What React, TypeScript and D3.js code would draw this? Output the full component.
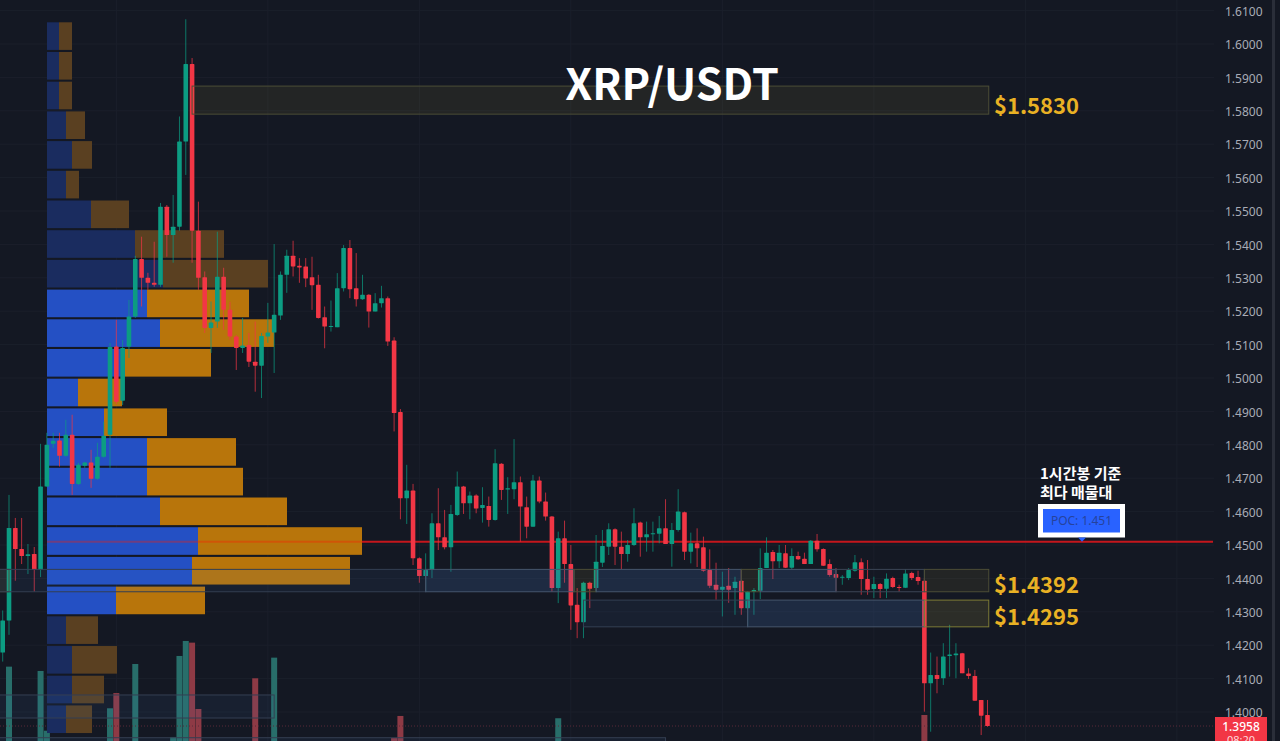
import React, { useEffect, useRef } from 'react';
import * as d3 from 'd3';

// OHLC, one entry per 1h candle
const opens = [1.4178,1.4274,1.4551,1.4488,1.4467,1.4473,1.4425,1.4675,1.4803,1.4813,1.4767,1.4830,1.4683,1.4737,1.4747,1.4698,1.4764,1.4830,1.5094,1.4932,1.5094,1.5184,1.5356,1.5300,1.5285,1.5279,1.5513,1.5428,1.5453,1.5708,1.5940,1.5441,1.5302,1.5150,1.5169,1.5303,1.5204,1.5124,1.5090,1.5099,1.5049,1.5037,1.5124,1.5136,1.5187,1.5309,1.5366,1.5336,1.5334,1.5302,1.5279,1.5182,1.5154,1.5152,1.5269,1.5389,1.5269,1.5236,1.5249,1.5199,1.5224,1.5239,1.5112,1.4898,1.4640,1.4663,1.4460,1.4407,1.4425,1.4565,1.4523,1.4493,1.4590,1.4675,1.4625,1.4648,1.4611,1.4617,1.4575,1.4743,1.4666,1.4667,1.4688,1.4613,1.4555,1.4693,1.4630,1.4585,1.4371,1.4520,1.4443,1.4321,1.4269,1.4387,1.4371,1.4447,1.4495,1.4547,1.4495,1.4473,1.4500,1.4567,1.4523,1.4532,1.4534,1.4550,1.4503,1.4545,1.4598,1.4480,1.4505,1.4493,1.4425,1.4381,1.4366,1.4378,1.4371,1.4393,1.4311,1.4360,1.4363,1.4431,1.4479,1.4451,1.4475,1.4432,1.4467,1.4459,1.4443,1.4513,1.4488,1.4443,1.4413,1.4402,1.4401,1.4423,1.4448,1.4398,1.4368,1.4383,1.4369,1.4401,1.4374,1.4372,1.4416,1.4404,1.4393,1.4086,1.4111,1.4101,1.4168,1.4170,1.4176,1.4115,1.4108,1.4036,1.3991];
const closes = [1.4274,1.4551,1.4488,1.4467,1.4472,1.4425,1.4675,1.4800,1.4812,1.4767,1.4830,1.4683,1.4740,1.4747,1.4698,1.4764,1.4827,1.5093,1.4929,1.5090,1.5184,1.5356,1.5300,1.5285,1.5279,1.5513,1.5428,1.5453,1.5708,1.5940,1.5441,1.5300,1.5150,1.5166,1.5303,1.5204,1.5124,1.5090,1.5097,1.5049,1.5037,1.5126,1.5136,1.5189,1.5309,1.5366,1.5334,1.5331,1.5298,1.5278,1.5180,1.5154,1.5156,1.5269,1.5389,1.5266,1.5236,1.5249,1.5199,1.5224,1.5239,1.5109,1.4895,1.4640,1.4663,1.4460,1.4407,1.4425,1.4565,1.4523,1.4493,1.4593,1.4675,1.4625,1.4648,1.4609,1.4620,1.4575,1.4745,1.4665,1.4670,1.4688,1.4615,1.4555,1.4693,1.4630,1.4585,1.4371,1.4520,1.4443,1.4319,1.4269,1.4387,1.4369,1.4450,1.4497,1.4547,1.4495,1.4473,1.4500,1.4565,1.4523,1.4532,1.4535,1.4550,1.4503,1.4545,1.4600,1.4480,1.4505,1.4490,1.4423,1.4378,1.4366,1.4375,1.4366,1.4390,1.4311,1.4360,1.4365,1.4431,1.4477,1.4451,1.4477,1.4432,1.4467,1.4457,1.4443,1.4513,1.4487,1.4438,1.4410,1.4402,1.4405,1.4425,1.4448,1.4398,1.4366,1.4383,1.4368,1.4399,1.4374,1.4371,1.4415,1.4401,1.4392,1.4086,1.4111,1.4099,1.4166,1.4172,1.4175,1.4116,1.4108,1.4034,1.3989,1.3958];
const highs = [1.4304,1.4650,1.4581,1.4581,1.4503,1.4494,1.4803,1.4836,1.4836,1.4836,1.4875,1.4890,1.4746,1.4749,1.4785,1.4806,1.4869,1.5105,1.5174,1.5114,1.5234,1.5366,1.5423,1.5315,1.5408,1.5524,1.5518,1.5548,1.5783,1.6074,1.5958,1.5528,1.5319,1.5229,1.5438,1.5330,1.5228,1.5129,1.5180,1.5135,1.5169,1.5135,1.5225,1.5401,1.5319,1.5384,1.5411,1.5359,1.5359,1.5363,1.5309,1.5214,1.5232,1.5314,1.5398,1.5413,1.5374,1.5309,1.5251,1.5254,1.5276,1.5244,1.5122,1.4907,1.4740,1.4683,1.4463,1.4475,1.4595,1.4670,1.4605,1.4620,1.4720,1.4677,1.4660,1.4652,1.4673,1.4645,1.4787,1.4745,1.4703,1.4817,1.4705,1.4645,1.4710,1.4705,1.4657,1.4587,1.4540,1.4573,1.4500,1.4371,1.4390,1.4390,1.4530,1.4545,1.4565,1.4550,1.4540,1.4515,1.4610,1.4570,1.4570,1.4570,1.4587,1.4637,1.4566,1.4667,1.4600,1.4537,1.4550,1.4525,1.4487,1.4447,1.4420,1.4431,1.4405,1.4425,1.4362,1.4371,1.4490,1.4523,1.4485,1.4500,1.4500,1.4490,1.4480,1.4477,1.4515,1.4533,1.4490,1.4457,1.4431,1.4410,1.4431,1.4470,1.4460,1.4455,1.4405,1.4386,1.4415,1.4405,1.4381,1.4428,1.4420,1.4423,1.4401,1.4178,1.4166,1.4206,1.4261,1.4206,1.4177,1.4131,1.4126,1.4036,1.4036];
const lows = [1.4151,1.4231,1.4393,1.4443,1.4413,1.4360,1.4404,1.4674,1.4791,1.4735,1.4764,1.4650,1.4680,1.4731,1.4671,1.4695,1.4761,1.4731,1.4922,1.4919,1.5060,1.5180,1.5214,1.5264,1.5273,1.5273,1.5363,1.5345,1.5441,1.5608,1.5345,1.5264,1.5135,1.5075,1.5150,1.5144,1.5114,1.5024,1.5075,1.5033,1.4959,1.4940,1.5105,1.5015,1.5174,1.5255,1.5304,1.5285,1.5272,1.5204,1.5178,1.5089,1.5139,1.5152,1.5259,1.5239,1.5214,1.5234,1.5151,1.5199,1.5211,1.5096,1.4840,1.4577,1.4563,1.4440,1.4387,1.4360,1.4401,1.4485,1.4487,1.4420,1.4587,1.4593,1.4577,1.4595,1.4567,1.4555,1.4573,1.4635,1.4593,1.4637,1.4510,1.4520,1.4555,1.4625,1.4573,1.4360,1.4326,1.4387,1.4246,1.4221,1.4221,1.4311,1.4360,1.4434,1.4470,1.4440,1.4428,1.4450,1.4497,1.4465,1.4480,1.4480,1.4505,1.4503,1.4435,1.4540,1.4455,1.4445,1.4434,1.4420,1.4371,1.4336,1.4286,1.4327,1.4291,1.4291,1.4255,1.4291,1.4338,1.4431,1.4398,1.4431,1.4431,1.4428,1.4455,1.4443,1.4443,1.4480,1.4437,1.4405,1.4360,1.4381,1.4395,1.4420,1.4351,1.4351,1.4341,1.4341,1.4341,1.4371,1.4360,1.4371,1.4395,1.4381,1.4001,1.3941,1.4056,1.4081,1.4106,1.4101,1.4116,1.4099,1.4034,1.3931,1.3956];

// volume pane, only the bars tall enough to show above the crop
const volumeBars = [1,6,7,17,18,21,27,28,29,30,31,40,43,62,63,88,146];
const volumeValues = [77.8,74.2,24.4,43.1,55.8,80,19.2,86.7,99.2,97.8,42.5,68.1,85.3,18.3,36.7,34.8,37.5];

// volume profile, top row first
const profileBuy = [12,12,12,19,25,19,44,88,116,100,113,78,31,57,100,100,113,151,145,69,19,25,25,19];
const profileSell = [13,13,13,19,20,13,38,89,105,102,114,86,44,63,89,96,127,164,158,89,32,45,32,26];
const valueAreaRows = [9,10,11,12,13,14,15,16,17,18,19];

const priceTicks = [1.61,1.6,1.59,1.58,1.57,1.56,1.55,1.54,1.53,1.52,1.51,1.5,1.49,1.48,1.47,1.46,1.45,1.44,1.43,1.42,1.41,1.4];
const dayBars = [18,42,66,90,114,138,162,186];

const pocPrice = 1.451;
const lastPrice = 1.3958;

// zones: start bar, end bar, top price, bottom price, kind
const zoneStarts = [30,-1,-1,67,90.5,94,117,120,132,146,92,118,146,-1,-1];
const zoneEnds = [156.2,1,67,90.5,94,117,120,132,146,156.2,118,146,156.2,43,105];
const zoneTops = [1.5874,1.4427,1.4427,1.4427,1.4427,1.4427,1.4427,1.4427,1.4427,1.4427,1.4335,1.4335,1.4335,1.4051,1.3923];
const zoneBottoms = [1.5790,1.4360,1.4360,1.4360,1.4360,1.4360,1.4360,1.4360,1.4360,1.4360,1.4255,1.4255,1.4255,1.3982,1.38];
const zoneKinds = ['olive','olive','faint','blue','olive','blue','olive','blue','line','olive','faint','blue','oliveBright','faint','faint'];

const levelLabels = ['$1.5830','$1.4392','$1.4295'];
const levelPrices = [1.5830,1.4392,1.4295];
// labels sit a bit under their level in the picture
const levelOffsets = [13.5,11.5,11.8];

const BG = '#141823';
const UP = '#0c9c82';
const DOWN = '#f23645';
const VOL_UP = '#286e6a';
const VOL_DOWN = '#8e3a45';
const KR_FONT = '"Noto Sans CJK KR", "Noto Sans", sans-serif';

const zoneFill: Record<string, string> = {
  olive: 'rgba(190,180,70,0.09)',
  oliveBright: 'rgba(190,180,70,0.14)',
  blue: 'rgba(70,120,190,0.2)',
  faint: 'rgba(70,120,190,0.09)',
  line: 'none',
};
const zoneStroke: Record<string, string> = {
  olive: '#4c4d36',
  oliveBright: '#7d7b36',
  blue: '#46566c',
  faint: '#343f52',
  line: '#3c4656',
};

export default function App() {
  const svgRef = useRef<SVGSVGElement>(null);

  useEffect(() => {
    document.body.style.margin = '0';
    document.body.style.background = BG;
    if (!svgRef.current) return;

    const svg = d3.select(svgRef.current);
    svg.selectAll('*').remove();

    // Scales
    const x = d3.scaleLinear().domain([0, 156]).range([2.7, 987.5]);
    const y = d3.scaleLinear().domain([1.4, 1.6]).range([712, 44]);
    const volY = d3.scaleLinear().domain([0, 100]).range([760, 640]);
    const profileX = d3.scaleLinear().domain([0, 315]).range([47, 362]);
    const rows = d3.range(profileBuy.length);
    const rowY = d3.scaleBand<number>()
      .domain(rows)
      .range([y(1.6065), y(1.3937)])
      .paddingInner(0.07);
    const bars = d3.range(opens.length);

    svg.append('rect').attr('width', 1280).attr('height', 741).attr('fill', BG);

    // Grid
    const grid = svg.append('g').attr('stroke', '#1b1f2b').attr('stroke-width', 1);
    grid.selectAll('line.h').data(priceTicks).enter().append('line')
      .attr('x1', 0).attr('x2', 1214)
      .attr('y1', d => y(d)).attr('y2', d => y(d));
    grid.selectAll('line.v').data(dayBars).enter().append('line')
      .attr('x1', d => x(d)).attr('x2', d => x(d))
      .attr('y1', 0).attr('y2', 741);

    // Volume pane
    svg.append('g').selectAll('rect').data(volumeBars).enter().append('rect')
      .attr('x', d => x(d) - 3)
      .attr('width', 6)
      .attr('y', (_, i) => volY(volumeValues[i]))
      .attr('height', (_, i) => 741 - volY(volumeValues[i]))
      .attr('fill', d => (closes[d] >= opens[d] ? VOL_UP : VOL_DOWN));

    // Last price dotted line
    svg.append('line')
      .attr('x1', 0).attr('x2', 1215)
      .attr('y1', y(lastPrice)).attr('y2', y(lastPrice))
      .attr('stroke', '#5a2a38').attr('stroke-width', 1).attr('stroke-dasharray', '1 2');

    // POC line, right of the profile
    svg.append('line')
      .attr('x1', profileX(315)).attr('x2', 1213)
      .attr('y1', y(pocPrice)).attr('y2', y(pocPrice))
      .attr('stroke', '#c5161c').attr('stroke-width', 2);

    // Volume profile
    const profile = svg.append('g');
    const isBright = (i: number) => valueAreaRows.includes(i);
    profile.selectAll('rect.buy').data(rows).enter().append('rect')
      .attr('x', profileX(0))
      .attr('y', d => rowY(d) as number)
      .attr('width', d => profileX(profileBuy[d]) - profileX(0))
      .attr('height', rowY.bandwidth())
      .attr('fill', d => (isBright(d) ? '#2450c4' : '#1a2c5f'));
    profile.selectAll('rect.sell').data(rows).enter().append('rect')
      .attr('x', d => profileX(profileBuy[d]))
      .attr('y', d => rowY(d) as number)
      .attr('width', d => profileX(profileSell[d]) - profileX(0))
      .attr('height', rowY.bandwidth())
      .attr('fill', d => (isBright(d) ? '#b8750b' : '#5a4021'));

    // POC line showing through the profile
    svg.append('line')
      .attr('x1', profileX(0)).attr('x2', profileX(315))
      .attr('y1', y(pocPrice)).attr('y2', y(pocPrice))
      .attr('stroke', '#ff1c00').attr('stroke-width', 2).attr('opacity', 0.35);

    // Candles
    const candles = svg.append('g');
    const color = (i: number) => (closes[i] >= opens[i] ? UP : DOWN);
    candles.selectAll('line').data(bars).enter().append('line')
      .attr('x1', d => x(d)).attr('x2', d => x(d))
      .attr('y1', d => y(highs[d])).attr('y2', d => y(lows[d]))
      .attr('stroke', d => color(d))
      .attr('stroke-width', 1)
      .attr('opacity', 0.72);
    candles.selectAll('rect').data(bars).enter().append('rect')
      .attr('x', d => x(d) - 2.3)
      .attr('width', 4.6)
      .attr('y', d => y(Math.max(opens[d], closes[d])))
      .attr('height', d => Math.max(1, Math.abs(y(opens[d]) - y(closes[d]))))
      .attr('rx', 0.6)
      .attr('fill', d => color(d));

    // Zones sit on top of the candles, they veil them a little
    svg.append('g').selectAll('rect').data(zoneStarts).enter().append('rect')
      .attr('x', d => x(d))
      .attr('width', (d, i) => x(zoneEnds[i]) - x(d))
      .attr('y', (_, i) => y(zoneTops[i]))
      .attr('height', (_, i) => y(zoneBottoms[i]) - y(zoneTops[i]))
      .attr('fill', (_, i) => zoneFill[zoneKinds[i]])
      .attr('stroke', (_, i) => zoneStroke[zoneKinds[i]])
      .attr('stroke-width', 1);

    // Price axis
    svg.append('rect').attr('x', 1272).attr('y', 0).attr('width', 3).attr('height', 741).attr('fill', '#2a2e39');
    const axis = svg.append('g')
      .attr('transform', 'translate(1225,0.8)')
      .call(d3.axisRight(y).tickValues(priceTicks).tickFormat(d => d3.format('.4f')(d as number)).tickSize(0).tickPadding(0));
    axis.select('.domain').remove();
    axis.selectAll('text')
      .style('font-family', '"Noto Sans", sans-serif')
      .style('font-size', '12px')
      .style('fill', '#a9acb6');

    // Last price tag
    svg.append('rect').attr('x', 1215).attr('y', 717).attr('width', 52).attr('height', 26).attr('fill', DOWN);
    svg.append('text')
      .attr('x', 1241).attr('y', y(lastPrice) + 4.5)
      .attr('text-anchor', 'middle')
      .style('font-family', '"Noto Sans", sans-serif').style('font-size', '12px').style('font-weight', 500)
      .attr('fill', '#fff').text(d3.format('.4f')(lastPrice));
    svg.append('text')
      .attr('x', 1241).attr('y', 744)
      .attr('text-anchor', 'middle')
      .style('font-family', '"Noto Sans", sans-serif').style('font-size', '11px')
      .attr('fill', '#ffd9dc').text('08:20');

    // Title
    svg.append('text')
      .attr('x', 672).attr('y', 99.5)
      .attr('text-anchor', 'middle')
      .style('font-family', KR_FONT).style('font-size', '43px').style('font-weight', 700)
      .attr('fill', '#fff').text('XRP/USDT');

    // Level labels
    svg.append('g').selectAll('text').data(levelLabels).enter().append('text')
      .attr('x', 994)
      .attr('y', (_, i) => y(levelPrices[i]) + levelOffsets[i])
      .style('font-family', KR_FONT).style('font-size', '22px').style('font-weight', 700)
      .attr('fill', '#e9b124')
      .text(d => d);

    // POC annotation
    svg.append('text').attr('x', 1040).attr('y', 479)
      .style('font-family', KR_FONT).style('font-size', '15px').style('font-weight', 700)
      .attr('fill', '#fff').text('1시간봉 기준');
    svg.append('text').attr('x', 1040).attr('y', 498)
      .style('font-family', KR_FONT).style('font-size', '15px').style('font-weight', 700)
      .attr('fill', '#fff').text('최다 매물대');
    svg.append('rect').attr('x', 1040.5).attr('y', 506.5).attr('width', 82).attr('height', 28.5)
      .attr('fill', '#2962ff').attr('stroke', '#fff').attr('stroke-width', 5);
    svg.append('path')
      .attr('d', d3.line()([[1078, 537.5], [1086, 537.5], [1082, y(pocPrice)]]) + 'Z')
      .attr('fill', '#2962ff');
    svg.append('text').attr('x', 1081.5).attr('y', 524.5)
      .attr('text-anchor', 'middle')
      .style('font-family', '"Noto Sans", sans-serif').style('font-size', '12px')
      .attr('fill', '#26429c').text('POC: 1.451');
  }, []);

  return <svg ref={svgRef} width={1280} height={741} style={{ display: 'block' }} />;
}
